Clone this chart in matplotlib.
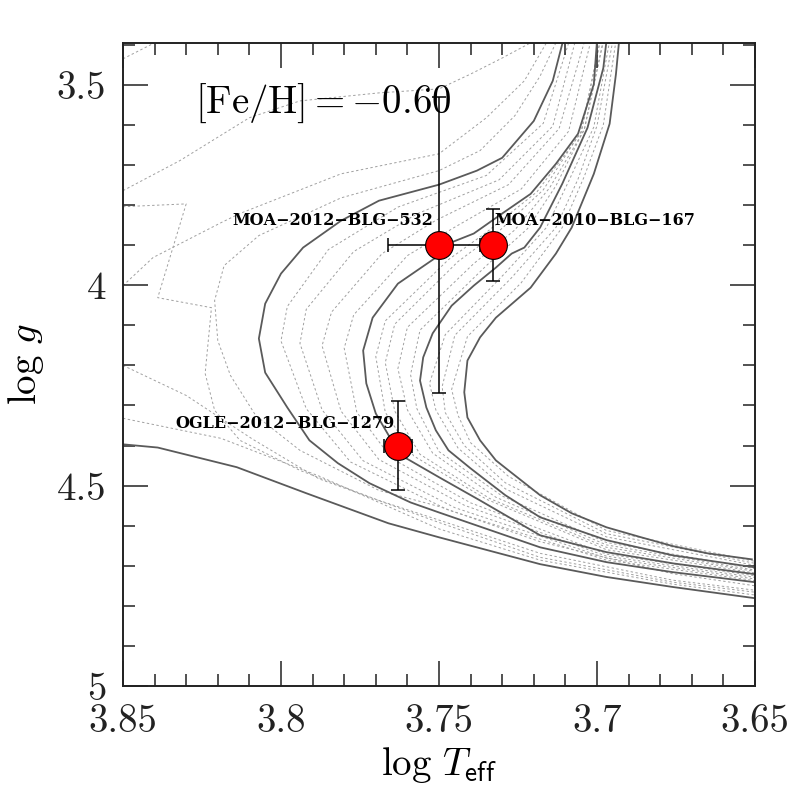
import numpy as np
import matplotlib
matplotlib.use("Agg")
import matplotlib.pyplot as plt
from matplotlib.ticker import MultipleLocator, FuncFormatter

plt.rcParams['font.family'] = 'cmr10'
plt.rcParams['mathtext.fontset'] = 'cm'
plt.rcParams['axes.unicode_minus'] = False

# Solid isochrones (log Teff, log g), youngest -> oldest
iso_a_x = [3.850, 3.839, 3.814, 3.792, 3.766, 3.750, 3.718, 3.697, 3.676, 3.650]
iso_a_y = [4.397, 4.405, 4.454, 4.519, 4.594, 4.629, 4.696, 4.728, 4.753, 4.781]

iso_b_x = [3.711, 3.714, 3.720, 3.730, 3.738, 3.750, 3.769, 3.781, 3.793, 3.800, 3.805, 3.807,
           3.805, 3.798, 3.791, 3.782, 3.772, 3.759, 3.750, 3.718, 3.697, 3.676, 3.650]
iso_b_y = [3.398, 3.490, 3.590, 3.682, 3.714, 3.749, 3.789, 3.839, 3.906, 3.971, 4.046, 4.133,
           4.218, 4.305, 4.387, 4.444, 4.494, 4.542, 4.567, 4.654, 4.691, 4.716, 4.741]

iso_c_x = [3.700, 3.701, 3.706, 3.713, 3.721, 3.730, 3.739, 3.747, 3.751, 3.763, 3.771, 3.774,
           3.773, 3.770, 3.765, 3.761, 3.750, 3.737, 3.718, 3.697, 3.676, 3.650]
iso_c_y = [3.390, 3.498, 3.622, 3.697, 3.772, 3.821, 3.871, 3.896, 3.931, 3.996, 4.081, 4.163,
           4.245, 4.320, 4.387, 4.429, 4.479, 4.537, 4.624, 4.666, 4.694, 4.721]

iso_d_x = [3.697, 3.698, 3.703, 3.711, 3.718, 3.723, 3.727, 3.732, 3.739, 3.746, 3.752, 3.755,
           3.756, 3.754, 3.751, 3.747, 3.740, 3.729, 3.718, 3.697, 3.676, 3.650]
iso_d_y = [3.390, 3.458, 3.607, 3.747, 3.856, 3.906, 3.921, 3.956, 4.001, 4.051, 4.120, 4.180,
           4.238, 4.305, 4.362, 4.412, 4.457, 4.524, 4.579, 4.636, 4.674, 4.704]

iso_e_x = [3.693, 3.694, 3.696, 3.701, 3.708, 3.713, 3.721, 3.732, 3.737, 3.741, 3.742, 3.741,
           3.737, 3.732, 3.728, 3.718, 3.708, 3.697, 3.686, 3.676, 3.665, 3.651]
iso_e_y = [3.390, 3.473, 3.597, 3.722, 3.856, 3.921, 4.006, 4.081, 4.130, 4.188, 4.267, 4.330,
           4.387, 4.437, 4.462, 4.524, 4.569, 4.604, 4.629, 4.651, 4.669, 4.684]

# Dotted isochrones (intermediate ages)
dot_1_x = [3.850, 3.8405]
dot_1_y = [3.435, 3.397]
dot_2_x = [3.850, 3.832, 3.810, 3.794, 3.769, 3.750, 3.740, 3.730, 3.721]
dot_2_y = [3.764, 3.689, 3.582, 3.540, 3.520, 3.510, 3.473, 3.433, 3.395]
dot_3_x = [3.850, 3.830, 3.839, 3.822, 3.824, 3.821, 3.813, 3.794, 3.769, 3.750, 3.718, 3.676, 3.650]
dot_3_y = [3.804, 3.797, 4.031, 4.056, 4.220, 4.312, 4.387, 4.462, 4.537, 4.586, 4.669, 4.736, 4.761]
dot_4_x = [3.850, 3.8405, 3.819, 3.813, 3.781, 3.750, 3.735, 3.723, 3.716]
dot_4_y = [4.001, 3.931, 3.844, 3.821, 3.722, 3.672, 3.582, 3.490, 3.395]
dot_5_x = [3.713, 3.718, 3.726, 3.737, 3.750, 3.781, 3.807, 3.818, 3.821, 3.820, 3.816,
           3.808, 3.794, 3.769, 3.750, 3.718, 3.676, 3.650]
dot_5_y = [3.395, 3.478, 3.577, 3.664, 3.714, 3.782, 3.876, 3.951, 4.038, 4.138, 4.225,
           4.325, 4.412, 4.512, 4.552, 4.640, 4.720, 4.750]
dot_6_x = [3.850, 3.830, 3.809, 3.788, 3.750, 3.718, 3.676, 3.650]
dot_6_y = [4.200, 4.275, 4.384, 4.483, 4.592, 4.679, 4.741, 4.766]
dot_7_x = [3.850, 3.819, 3.788, 3.750, 3.718, 3.676, 3.650]
dot_7_y = [4.332, 4.382, 4.476, 4.608, 4.686, 4.746, 4.773]

dot_bc1_x = [3.709, 3.717, 3.735, 3.763, 3.785, 3.798, 3.800, 3.792, 3.778, 3.747, 3.697, 3.650]
dot_bc1_y = [3.396, 3.596, 3.726, 3.805, 3.911, 4.053, 4.139, 4.308, 4.441, 4.561, 4.686, 4.737]
dot_bc2_x = [3.707, 3.714, 3.731, 3.757, 3.777, 3.792, 3.794, 3.787, 3.774, 3.745, 3.697, 3.650]
dot_bc2_y = [3.395, 3.603, 3.737, 3.822, 3.916, 4.060, 4.145, 4.311, 4.438, 4.555, 4.681, 4.733]
dot_bc3_x = [3.704, 3.712, 3.728, 3.751, 3.768, 3.784, 3.787, 3.781, 3.769, 3.742, 3.697, 3.650]
dot_bc3_y = [3.393, 3.609, 3.749, 3.838, 3.921, 4.067, 4.151, 4.314, 4.435, 4.549, 4.676, 4.729]
dot_bc4_x = [3.702, 3.709, 3.724, 3.745, 3.760, 3.777, 3.780, 3.776, 3.765, 3.740, 3.697, 3.650]
dot_bc4_y = [3.392, 3.616, 3.760, 3.855, 3.926, 4.074, 4.157, 4.317, 4.432, 4.543, 4.671, 4.725]

dot_cd1_x = [3.699, 3.705, 3.719, 3.735, 3.747, 3.767, 3.770, 3.767, 3.758, 3.735, 3.697, 3.650]
dot_cd1_y = [3.390, 3.619, 3.767, 3.868, 3.936, 4.089, 4.178, 4.317, 4.426, 4.534, 4.660, 4.718]
dot_cd2_x = [3.699, 3.705, 3.717, 3.731, 3.744, 3.764, 3.767, 3.764, 3.756, 3.734, 3.697, 3.650]
dot_cd2_y = [3.390, 3.616, 3.762, 3.865, 3.941, 4.097, 4.193, 4.314, 4.422, 4.532, 4.654, 4.714]
dot_cd3_x = [3.698, 3.704, 3.715, 3.726, 3.739, 3.760, 3.763, 3.760, 3.752, 3.732, 3.697, 3.650]
dot_cd3_y = [3.390, 3.612, 3.757, 3.862, 3.946, 4.105, 4.208, 4.311, 4.419, 4.529, 4.648, 4.711]
dot_cd4_x = [3.698, 3.704, 3.713, 3.722, 3.735, 3.756, 3.759, 3.757, 3.750, 3.730, 3.697, 3.650]
dot_cd4_y = [3.390, 3.610, 3.752, 3.859, 3.951, 4.112, 4.223, 4.308, 4.415, 4.526, 4.642, 4.707]

dot_de1_x = [3.696, 3.701, 3.709, 3.716, 3.729, 3.748, 3.753, 3.751, 3.744, 3.729, 3.697, 3.650]
dot_de1_y = [3.390, 3.605, 3.741, 3.856, 3.969, 4.123, 4.245, 4.311, 4.406, 4.508, 4.628, 4.699]
dot_de2_x = [3.695, 3.700, 3.706, 3.713, 3.727, 3.745, 3.749, 3.748, 3.742, 3.729, 3.697, 3.650]
dot_de2_y = [3.390, 3.602, 3.735, 3.856, 3.981, 4.125, 4.253, 4.318, 4.400, 4.493, 4.620, 4.694]
dot_de3_x = [3.694, 3.698, 3.704, 3.711, 3.724, 3.741, 3.746, 3.744, 3.740, 3.728, 3.697, 3.650]
dot_de3_y = [3.390, 3.600, 3.728, 3.856, 3.994, 4.128, 4.260, 4.324, 4.393, 4.477, 4.612, 4.689]

# Microlensing source stars
names = ["MOA-2012-BLG-532", "MOA-2010-BLG-167", "OGLE-2012-BLG-1279"]
logT = [3.750, 3.733, 3.763]
logT_err = [0.016, 0.004, 0.0045]
logg = [3.90, 3.90, 4.40]
logg_err = [0.37, 0.09, 0.11]
label_x = [3.7836, 3.7006, 3.7987]
label_y = [3.839, 3.839, 4.345]

fig = plt.figure(figsize=(7.97, 7.97), dpi=100)
ax = fig.add_axes([0.1543, 0.1393, 0.7930, 0.8070])

solids = [(iso_a_x, iso_a_y), (iso_b_x, iso_b_y), (iso_c_x, iso_c_y),
          (iso_d_x, iso_d_y), (iso_e_x, iso_e_y)]
dots = [(dot_1_x, dot_1_y), (dot_2_x, dot_2_y), (dot_3_x, dot_3_y), (dot_4_x, dot_4_y),
        (dot_5_x, dot_5_y), (dot_6_x, dot_6_y), (dot_7_x, dot_7_y),
        (dot_bc1_x, dot_bc1_y), (dot_bc2_x, dot_bc2_y), (dot_bc3_x, dot_bc3_y), (dot_bc4_x, dot_bc4_y),
        (dot_cd1_x, dot_cd1_y), (dot_cd2_x, dot_cd2_y), (dot_cd3_x, dot_cd3_y), (dot_cd4_x, dot_cd4_y),
        (dot_de1_x, dot_de1_y), (dot_de2_x, dot_de2_y), (dot_de3_x, dot_de3_y)]

for xs, ys in dots:
    ax.plot(xs, ys, color='#a0a0a0', lw=0.7, ls=(0, (2.5, 2.5)), zorder=1)
for xs, ys in solids:
    ax.plot(xs, ys, color='#5a5a5a', lw=1.3, zorder=2)

ax.errorbar(logT, logg, xerr=logT_err, yerr=logg_err, fmt='none', ecolor='black',
            elinewidth=1.1, capsize=5, capthick=1.1, zorder=3)
ax.plot(logT, logg, 'o', ms=20, mfc='red', mec='black', mew=0.8, zorder=4)

for n, tx, ty in zip(names, label_x, label_y):
    ax.text(tx, ty, n.replace("-", "\u2212"), ha='center', va='center', fontsize=11.5,
            family=['DejaVu Serif'], fontweight='bold', zorder=5)

ax.text(3.7867, 3.547, r"$[\mathrm{Fe/H}]={-}0.60$", ha='center', va='center', fontsize=28)

ax.set_xlim(3.85, 3.65)
ax.set_ylim(5.0, 3.395)
ax.xaxis.set_major_locator(MultipleLocator(0.05))
ax.xaxis.set_minor_locator(MultipleLocator(0.01))
ax.yaxis.set_major_locator(MultipleLocator(0.5))
ax.yaxis.set_minor_locator(MultipleLocator(0.1))
fmt = FuncFormatter(lambda v, p: "%g" % round(v, 3))
ax.xaxis.set_major_formatter(fmt)
ax.yaxis.set_major_formatter(fmt)
ax.tick_params(which='both', direction='in', top=True, right=True, width=1.1, colors='#222222')
ax.tick_params(which='major', length=18, labelsize=28)
ax.tick_params(axis='x', which='major', pad=13)
ax.tick_params(axis='y', which='major', pad=12)
ax.tick_params(which='minor', length=8.5)
for s in ax.spines.values():
    s.set_linewidth(1.4)
    s.set_color('#222222')

ax.set_xlabel(r"$\log\,T_{\mathsf{eff}}$", fontsize=28, labelpad=4)
ax.set_ylabel(r"$\log\,g$", fontsize=28, labelpad=8)

fig.savefig("out.png", dpi=100)
